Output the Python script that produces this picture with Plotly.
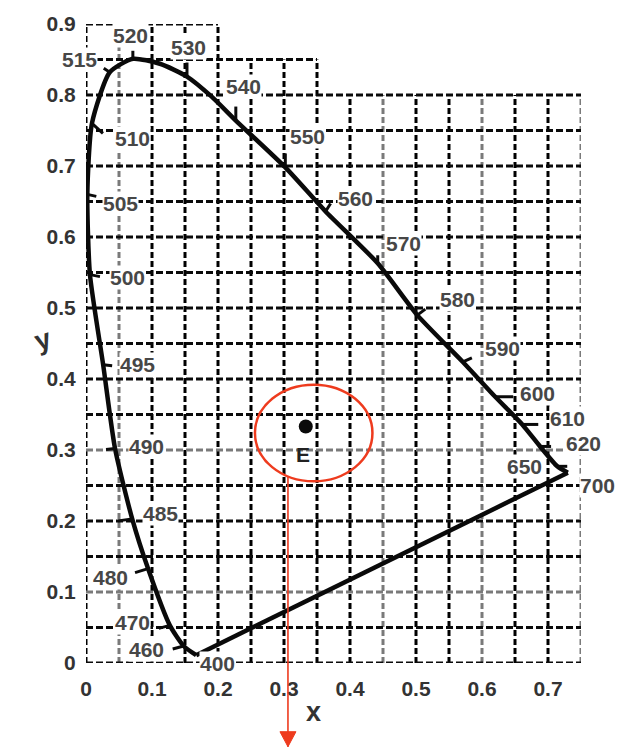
import math
import plotly.graph_objects as go

# ---- spectral locus (wavelength in nm, chromaticity x, y) ----
wavelengths = [400, 460, 470, 480, 485, 490, 495, 500, 505, 510, 515, 520, 525,
               530, 535, 540, 550, 560, 570, 580, 590, 600, 610, 620, 650, 700]
locus_x = [0.167, 0.148, 0.127, 0.094, 0.070, 0.044, 0.026, 0.006, 0.002, 0.009,
           0.036, 0.071, 0.112, 0.153, 0.190, 0.227, 0.302, 0.363, 0.442, 0.502,
           0.571, 0.620, 0.661, 0.688, 0.714, 0.730]
locus_y = [0.011, 0.024, 0.053, 0.133, 0.203, 0.302, 0.420, 0.547, 0.660, 0.760,
           0.832, 0.851, 0.844, 0.826, 0.798, 0.764, 0.698, 0.636, 0.563, 0.490,
           0.424, 0.375, 0.336, 0.305, 0.277, 0.268]

# wavelengths that carry a printed label
labelled = [400, 460, 470, 480, 485, 490, 495, 500, 505, 510, 515, 520, 530,
            540, 550, 560, 570, 580, 590, 600, 610, 620, 650, 700]

# equal-energy white point
white_x, white_y = 0.333, 0.333
white_name = "E"

# axis ticks
x_ticks = [0, 0.1, 0.2, 0.3, 0.4, 0.5, 0.6, 0.7]
x_ticktext = ["0", "0.1", "0.2", "0.3", "0.4", "0.5", "0.6", "0.7"]
y_ticks = [0, 0.1, 0.2, 0.3, 0.4, 0.5, 0.6, 0.7, 0.8, 0.9]
y_ticktext = ["0", "0.1", "0.2", "0.3", "0.4", "0.5", "0.6", "0.7", "0.8", "0.9"]

X_MAX, Y_MAX = 0.75, 0.9
STEP = 0.05

# label offsets (px, screen: +x right, +y down) from the locus point
label_offset = {
    400: (21, 8), 460: (-37, 4), 470: (-37, -3), 480: (-38, 9), 485: (28, -5),
    490: (31, -2), 495: (34, 0), 500: (38, 3), 505: (33, 9), 510: (41, 15),
    515: (-30, -13), 520: (-2, -23), 530: (2, -29), 540: (8, -34), 550: (22, -31),
    560: (30, -13), 570: (26, -20), 580: (40, -16), 590: (40, -13), 600: (42, -3),
    610: (45, -6), 620: (43, -3), 650: (-33, 0), 700: (30, 13),
}
# wavelength tick-mark direction (px, screen coordinates)
tick_offset = {
    460: (-11, 3), 470: (-11, 3), 480: (-13, 4), 485: (-14, 2), 490: (-9, 1),
    495: (9, 1), 500: (10, 2), 505: (9, 2), 510: (11, 10), 515: (-6, -4),
    520: (0, -8), 530: (0, -14), 540: (0, -14), 550: (0, -14), 560: (5, -8),
    570: (0, -8), 580: (8, -6), 590: (9, -4), 600: (18, 0), 610: (16, 0),
    620: (11, 0), 650: (10, 0),
}

FONT = "Liberation Sans, Arial, sans-serif"
point = {w: (x, y) for w, x, y in zip(wavelengths, locus_x, locus_y)}

fig = go.Figure()

# ---- dashed grid with a stepped upper edge ----
def top_of(x):
    if x <= 0.2 + 1e-9:
        return 0.9
    if x <= 0.35 + 1e-9:
        return 0.85
    return 0.8

def right_of(y):
    if y <= 0.8 + 1e-9:
        return 0.75
    if y <= 0.85 + 1e-9:
        return 0.35
    return 0.2

grey_x = {1, 9, 12, 15}
grey_y = {2, 6}
shapes = []
for i in range(int(round(X_MAX / STEP)) + 1):
    gx = i * STEP
    shapes.append(dict(type="line", xref="x", yref="y", x0=gx, x1=gx, y0=0, y1=top_of(gx),
                       layer="below",
                       line=dict(color="#7a7a7a" if i in grey_x else "#000000",
                                 width=3, dash="6px,3px")))
for j in range(int(round(Y_MAX / STEP)) + 1):
    gy = j * STEP
    shapes.append(dict(type="line", xref="x", yref="y", x0=0, x1=right_of(gy), y0=gy, y1=gy,
                       layer="below",
                       line=dict(color="#7a7a7a" if j in grey_y else "#0a0a0a",
                                 width=2.8, dash="7px,3px")))

# ---- locus and purple line ----
fig.add_trace(go.Scatter(x=locus_x, y=locus_y, mode="lines",
                         line=dict(color="#0a0a0a", width=4.5, shape="spline", smoothing=0.6),
                         hoverinfo="skip"))
fig.add_trace(go.Scatter(x=[locus_x[0], locus_x[-1]], y=[locus_y[0], locus_y[-1]], mode="lines",
                         line=dict(color="#0a0a0a", width=4.5), hoverinfo="skip"))

# ---- wavelength tick marks ----
for w, (dx, dy) in tick_offset.items():
    px, py = point[w]
    shapes.append(dict(type="line", xref="x", yref="y", xsizemode="pixel", ysizemode="pixel",
                       xanchor=px, yanchor=py, x0=0, y0=0, x1=dx, y1=-dy,
                       line=dict(color="#0a0a0a", width=3)))

# ---- white point ----
fig.add_trace(go.Scatter(x=[white_x], y=[white_y], mode="markers",
                         marker=dict(color="#0a0a0a", size=14), hoverinfo="skip"))

# ---- red ellipse around E and arrow leading down ----
ell_cx, ell_cy, ell_rx, ell_ry = 0.345, 0.324, 0.089, 0.068
RED = "#EE3B1E"
shapes.append(dict(type="circle", xref="x", yref="y",
                   x0=ell_cx - ell_rx, x1=ell_cx + ell_rx,
                   y0=ell_cy - ell_ry, y1=ell_cy + ell_ry,
                   line=dict(color=RED, width=2.5)))
arrow_x = 0.306
arrow_start = ell_cy - ell_ry * math.sqrt(1 - ((arrow_x - ell_cx) / ell_rx) ** 2)
arrow_tip_paper = -0.131
shapes.append(dict(type="line", xref="paper", yref="paper",
                   x0=arrow_x / X_MAX, x1=arrow_x / X_MAX,
                   y0=arrow_start / Y_MAX, y1=arrow_tip_paper,
                   line=dict(color=RED, width=1.6)))
shapes.append(dict(type="path", xref="paper", yref="paper", xsizemode="pixel", ysizemode="pixel",
                   xanchor=arrow_x / X_MAX, yanchor=arrow_tip_paper,
                   path="M 0 0 L -8 15 L 8 15 Z",
                   fillcolor=RED, line=dict(color=RED, width=1)))

# ---- text ----
annotations = []
for w in labelled:
    px, py = point[w]
    dx, dy = label_offset[w]
    annotations.append(dict(x=px, y=py, xref="x", yref="y", text=str(w), showarrow=False,
                            xshift=dx, yshift=-dy, xanchor="center", yanchor="middle",
                            bgcolor="white", borderpad=0,
                            font=dict(family=FONT, size=21, color="#474747", weight="bold")))

annotations.append(dict(x=white_x, y=white_y, xref="x", yref="y", text=white_name,
                        showarrow=False, xshift=-3, yshift=-28,
                        font=dict(family=FONT, size=21, color="#222222", weight="bold")))

annotations.append(dict(x=0.344, y=0, xref="x", yref="paper", text="x", showarrow=False,
                        yshift=-49, yanchor="middle",
                        font=dict(family=FONT, size=27, color="#333333", weight="bold")))
annotations.append(dict(x=0, y=0.455 / Y_MAX, xref="paper", yref="paper", text="y",
                        showarrow=False, xshift=-58, textangle=-18,
                        font=dict(family=FONT, size=28, color="#333333", weight="bold")))

tick_font = dict(family=FONT, size=21, color="#333333", weight="bold")
fig.update_layout(
    width=623, height=748,
    margin=dict(l=86, r=42, t=20, b=85),
    plot_bgcolor="white", paper_bgcolor="white",
    showlegend=False,
    shapes=shapes,
    annotations=annotations,
    xaxis=dict(range=[0, X_MAX], showgrid=False, zeroline=False, showline=False,
               tickvals=x_ticks, ticktext=x_ticktext, ticks="outside", ticklen=7,
               tickcolor="rgba(0,0,0,0)", tickfont=tick_font, fixedrange=True),
    yaxis=dict(range=[0, Y_MAX], showgrid=False, zeroline=False, showline=False,
               tickvals=y_ticks, ticktext=y_ticktext, ticks="outside", ticklen=5,
               tickcolor="rgba(0,0,0,0)", tickfont=tick_font, fixedrange=True),
)

fig.write_html("out.html")
